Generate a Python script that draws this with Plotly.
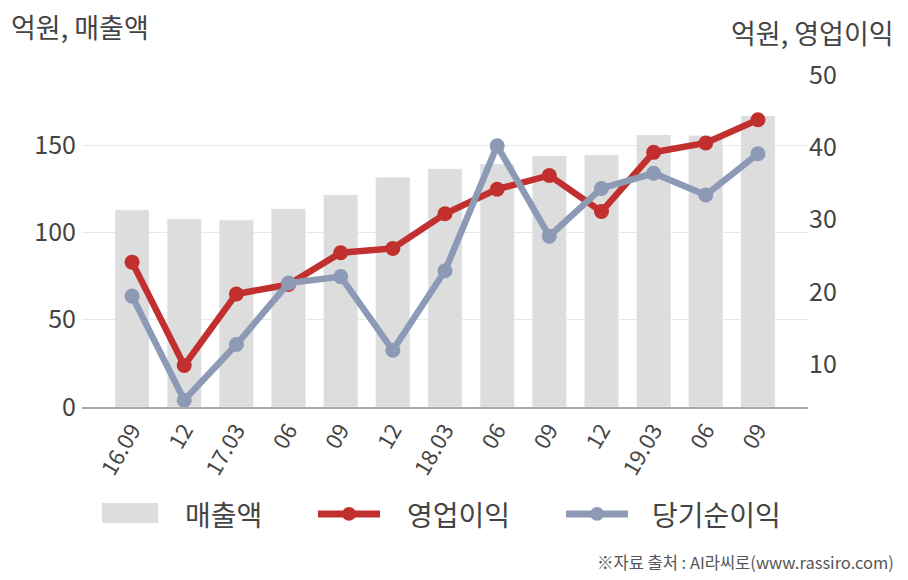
import plotly.graph_objects as go

categories = ["16.09", "12", "17.03", "06", "09", "12", "18.03", "06", "09", "12", "19.03", "06", "09"]
sales = [112.8, 107.6, 107.0, 113.4, 121.4, 131.5, 136.3, 139.1, 143.7, 144.3, 155.7, 155.3, 166.6]
op_income = [24.1, 9.8, 19.7, 21.0, 25.4, 26.0, 30.8, 34.2, 36.1, 31.1, 39.3, 40.6, 43.8]
net_income = [19.4, 5.0, 12.7, 21.2, 22.1, 11.9, 22.9, 40.2, 27.7, 34.3, 36.4, 33.4, 39.1]
series_names = ["매출액", "영업이익", "당기순이익"]
colors = ["#dddddd", "#c1302f", "#8d9ab5"]

x = list(range(len(categories)))
FONT = "Noto Sans CJK KR"
TXT = "#444444"

fig = go.Figure()
fig.add_trace(go.Bar(x=x, y=sales, name=series_names[0], marker_color=colors[0], width=0.65, yaxis="y"))
fig.add_trace(go.Scatter(x=x, y=op_income, name=series_names[1], mode="lines+markers",
                         line=dict(color=colors[1], width=6.5), marker=dict(size=15, color=colors[1]), yaxis="y2"))
fig.add_trace(go.Scatter(x=x, y=net_income, name=series_names[2], mode="lines+markers",
                         line=dict(color=colors[2], width=6.5), marker=dict(size=15, color=colors[2]), yaxis="y2"))

# custom legend (layout decoration, paper coordinates)
shapes = [
    dict(type="rect", xref="paper", yref="paper", x0=0.0275, x1=0.1047, y0=-0.334, y1=-0.277,
         fillcolor=colors[0], line=dict(width=0)),
    dict(type="line", xref="paper", yref="paper", x0=0.325, x1=0.4105, y0=-0.308, y1=-0.308,
         line=dict(color=colors[1], width=7)),
    dict(type="line", xref="paper", yref="paper", x0=0.6667, x1=0.752, y0=-0.308, y1=-0.308,
         line=dict(color=colors[2], width=7)),
    dict(type="circle", xref="paper", yref="paper", x0=0.3582, x1=0.3774, y0=-0.328, y1=-0.288,
         fillcolor=colors[1], line=dict(width=0)),
    dict(type="circle", xref="paper", yref="paper", x0=0.6998, x1=0.719, y0=-0.328, y1=-0.288,
         fillcolor=colors[2], line=dict(width=0)),
]
legend_text = [
    dict(text=series_names[0], x=0.139), dict(text=series_names[1], x=0.445), dict(text=series_names[2], x=0.782),
]
annotations = [
    dict(text=t["text"], xref="paper", yref="paper", x=t["x"], y=-0.308, xanchor="left", yanchor="middle",
         showarrow=False, font=dict(size=28, color=TXT)) for t in legend_text
]
annotations += [
    dict(text="억원, 매출액", xref="paper", yref="paper", x=-0.1, xshift=0, y=1.0, xanchor="left", yanchor="bottom",
         yshift=12, showarrow=False, font=dict(size=27, color=TXT)),
    dict(text="억원, 영업이익", x=1.0, xref="paper", yref="paper", xanchor="right", yanchor="bottom",
         xshift=88, y=1.0, yshift=6, showarrow=False, font=dict(size=27, color=TXT)),
    dict(text="※자료 출처 : AI라씨로(www.rassiro.com)", xref="paper", yref="paper", x=1.0, xshift=88,
         xanchor="right", y=-0.447, yanchor="middle", showarrow=False, font=dict(size=16.5, color="#555555")),
]

fig.update_layout(
    width=900, height=572,
    margin=dict(l=74, r=100, t=52, b=173, autoexpand=False),
    plot_bgcolor="white", paper_bgcolor="white",
    font=dict(family=FONT, color=TXT),
    showlegend=False,
    bargap=0.35,
    xaxis=dict(tickmode="array", tickvals=x, ticktext=categories, range=[-0.96, 12.96],
               tickangle=-60, tickfont=dict(size=22, color=TXT), showgrid=False, automargin=False,
               showline=True, linecolor="#aaaaaa", linewidth=1.5, ticks=""),
    yaxis=dict(range=[0, 198.7], tickvals=[0, 50, 100, 150], tickfont=dict(size=25, color=TXT), automargin=False,
               showgrid=True, gridcolor="#e8e8e8", zeroline=False, ticks="", ticklabelstandoff=5),
    yaxis2=dict(range=[4.05, 52.08], tickvals=[10, 20, 30, 40, 50], overlaying="y", side="right", automargin=False,
                tickfont=dict(size=25, color=TXT), showgrid=False, zeroline=False),
    shapes=shapes,
    annotations=annotations,
)

fig.write_html("out.html")
